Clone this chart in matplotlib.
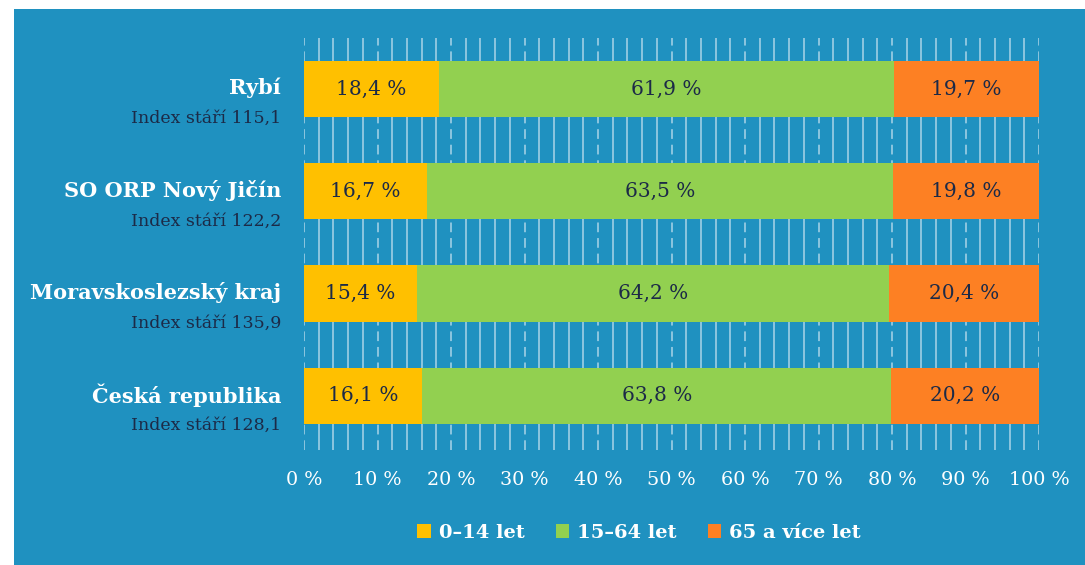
import matplotlib
matplotlib.use("Agg")
import matplotlib.pyplot as plt
from matplotlib.patches import Rectangle, Patch

categories = ["Rybí", "SO ORP Nový Jičín", "Moravskoslezský kraj", "Česká republika"]
index_stari = ["115,1", "122,2", "135,9", "128,1"]
series_names = ["0–14 let", "15–64 let", "65 a více let"]
v_0_14 = [18.4, 16.7, 15.4, 16.1]
v_15_64 = [61.9, 63.5, 64.2, 63.8]
v_65 = [19.7, 19.8, 20.4, 20.2]
series = [v_0_14, v_15_64, v_65]
colors = ["#FFC000", "#92D050", "#FD8023"]
xticks = list(range(0, 101, 10))

BG = "#1F91C0"
NAVY = "#1C2A47"
GRID = "#8CC6DF"
FONT = "DejaVu Serif"

fig = plt.figure(figsize=(10.85, 5.65), dpi=100)
fig.patch.set_facecolor("white")
fig.add_artist(Rectangle((14/1085, 0), 1 - 14/1085, 1 - 9/565, transform=fig.transFigure,
                         facecolor=BG, edgecolor="none", zorder=0))

ax = fig.add_axes([304/1085, 1 - 450/565, (1039 - 304)/1085, (450 - 38)/565])
ax.set_facecolor("none")

ypos = list(range(len(categories)))
left = [0] * len(categories)
for vals, col in zip(series, colors):
    ax.barh(ypos, vals, left=left, height=0.55, color=col, zorder=3, linewidth=0)
    for y, l, v in zip(ypos, left, vals):
        ax.text(l + v / 2, y, f"{v:.1f} %".replace(".", ","), ha="center", va="center",
                fontsize=14.5, color=NAVY, family=FONT, zorder=4)
    left = [a + b for a, b in zip(left, vals)]

ax.set_xlim(0, 100)
ax.set_ylim(len(categories) - 0.5 + 0.03, -0.5)
ax.set_xticks(xticks)
ax.set_xticklabels([f"{t} %" for t in xticks], fontsize=13.8, color="white", family=FONT)
ax.set_xticks([t for t in range(0, 101, 2)], minor=True)
ax.tick_params(axis="x", which="both", length=0, pad=15)
ax.set_yticks([])
ax.grid(True, axis="x", which="major", color=GRID, linewidth=1.4, linestyle=(0, (5, 3)), zorder=1)
ax.grid(True, axis="x", which="minor", color=GRID, linewidth=1.4, linestyle="-", zorder=1)
ax.set_axisbelow(True)
for s in ax.spines.values():
    s.set_visible(False)

for y, name, idx in zip(ypos, categories, index_stari):
    ax.text(-0.031, y - 0.01, name, transform=ax.get_yaxis_transform(), ha="right", va="center",
            fontsize=15, fontweight="bold", color="white", family=FONT)
    ax.text(-0.031, y + 0.29, f"Index stáří {idx}", transform=ax.get_yaxis_transform(),
            ha="right", va="center", fontsize=12.5, color=NAVY, family=FONT)

handles = [Patch(facecolor=c, edgecolor="none") for c in colors]
leg = fig.legend(handles, series_names, loc="center", bbox_to_anchor=(639/1085, 1 - 533/565),
                 ncol=3, frameon=False, handlelength=0.7, handleheight=0.7, handletextpad=0.4,
                 columnspacing=1.6, prop={"family": FONT, "weight": "bold", "size": 14.0})
for t in leg.get_texts():
    t.set_color("white")

fig.savefig("out.png", dpi=100, facecolor=fig.get_facecolor())
